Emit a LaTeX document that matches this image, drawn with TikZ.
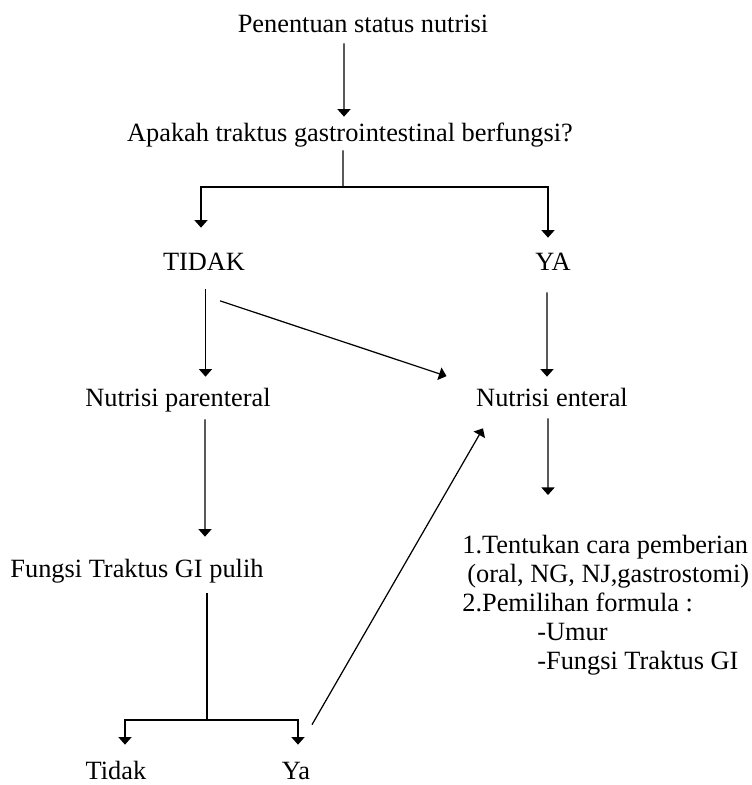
\documentclass[tikz,border=0pt]{standalone}
\usepackage{fontspec}
\setmainfont{Liberation Serif}
\usetikzlibrary{arrows.meta}

\begin{document}
\begin{tikzpicture}[
    every node/.style={inner sep=0pt, font=\fontsize{15}{16.5}\selectfont},
    lbl/.style={anchor=base, text height=0.4cm, text depth=0.1cm},
    arr/.style={-{Triangle[width=0.26cm, length=0.15cm]}, line width=0.7pt},
    conn/.style={line width=0.7pt}
]
    \useasboundingbox (0,0) rectangle (15.04,15.7);

    % Start and question
    \node[lbl] (pen) at (7.26, 15.04) {Penentuan status nutrisi};
    \node[lbl] (apa) at (7.0, 12.86) {Apakah traktus gastrointestinal berfungsi?};

    % Answers
    \node[lbl] (tidak) at (4.08, 10.28) {TIDAK};
    \node[lbl] (ya) at (11.06, 10.28) {YA};

    % Kind of nutrition
    \node[lbl] (par) at (3.56, 7.56) {Nutrisi parenteral};
    \node[lbl] (ent) at (11.04, 7.56) {Nutrisi enteral};

    % Recovery check
    \node[lbl] (fung) at (2.74, 4.14) {Fungsi Traktus GI pulih};
    \node[lbl] (tdk) at (2.32, 0.12) {Tidak};
    \node[lbl] (ya2) at (5.92, 0.12) {Ya};

    % Enteral steps
    \node[anchor=north west, align=left] (steps) at (9.24, 5.0)
        {1.Tentukan cara pemberian\\
         \hspace*{0.1cm}(oral, NG, NJ,gastrostomi)\\
         2.Pemilihan formula :\\
         \hspace*{1.5cm}-Umur\\
         \hspace*{1.5cm}-Fungsi Traktus GI};

    % Top arrow
    \draw[arr] ([shift={(-0.38,-0.1)}]pen.south) -- ([shift={(-0.12,0.1)}]apa.north);

    % First split
    \coordinate (split) at (6.86, 11.96);
    \draw[conn] ([shift={(-0.14,-0.06)}]apa.south) -- (split);
    \draw[arr] (split) -| ([shift={(-0.06,0.46)}]tidak.north);
    \draw[arr] (split) -| ([shift={(-0.1,0.26)}]ya.north);

    % From TIDAK and YA
    \draw[arr] ([shift={(0.03,-0.26)}]tidak.south) -- ([shift={(0.55,0.2)}]par.north);
    \draw[arr] ([shift={(0.32,-0.49)}]tidak.south) -- ([shift={(-2.11,0.21)}]ent.north);
    \draw[arr] ([shift={(-0.12,-0.32)}]ya.south) -- ([shift={(-0.1,0.2)}]ent.north);

    % Parenteral branch
    \draw[arr] ([shift={(0.54,-0.14)}]par.south) -- ([shift={(1.36,0.42)}]fung.north);
    \coordinate (split2) at (4.14, 1.3);
    \draw[conn] ([shift={(1.4,-0.2)}]fung.south) -- (split2);
    \draw[arr] (split2) -| ([shift={(0.18,0.28)}]tdk.north);
    \draw[arr] (split2) -| ([shift={(0.04,0.28)}]ya2.north);

    % Back to enteral
    \draw[arr] ([shift={(0.32,0.68)}]ya2.north) -- ([shift={(-1.38,-0.32)}]ent.south);

    % Enteral branch
    \draw[arr] ([shift={(-0.08,-0.12)}]ent.south) -- ([shift={(1.72,0.8)}]steps.north west);
\end{tikzpicture}
\end{document}
